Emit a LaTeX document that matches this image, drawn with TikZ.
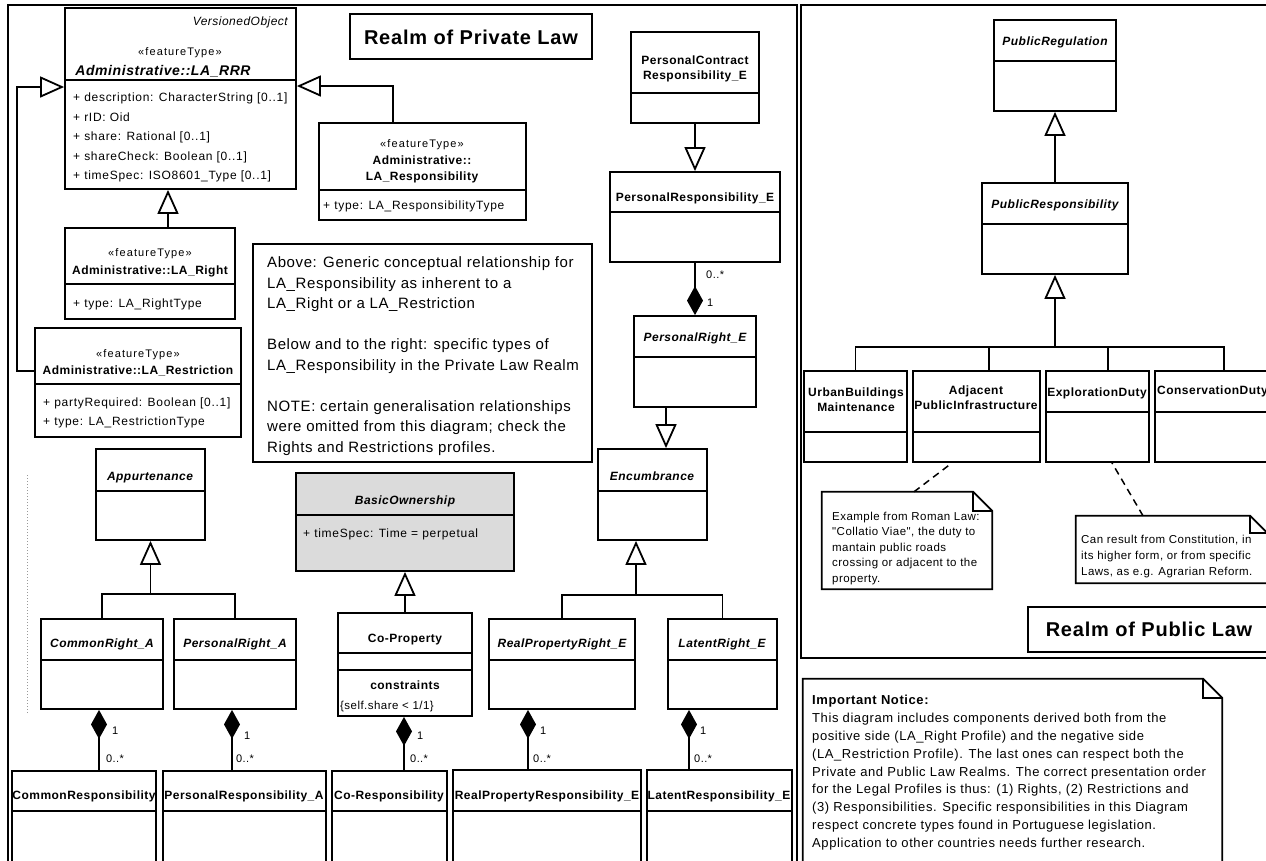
\documentclass[tikz,border=0pt]{standalone}
\usepackage{fontspec}
\setmainfont{Liberation Sans}[LetterSpace=4]
\newfontfamily\plainquotes{Liberation Sans}[LetterSpace=4]
\usetikzlibrary{arrows.meta,fit}

\begin{document}
\begin{tikzpicture}[
        x=1pt, y=-1pt,
        realm/.style={draw=black, line width=1.9pt, inner sep=0pt},
        classbox/.style={draw=black, line width=1.8pt, inner sep=0pt, fill=white},
        notebox/.style={inner sep=0pt},
        divider/.style={line width=1.8pt},
        link/.style={line width=1.8pt},
        gen/.style={link, -{Triangle[open, length=24pt, width=21pt]}},
        comp/.style={link, -{Diamond[length=29pt, width=16pt]}},
        noteline/.style={line width=1.5pt, dash pattern=on 7pt off 5pt},
        cname/.style={anchor=base, inner sep=0pt, font=\fontsize{12}{14}\selectfont\bfseries},
        aname/.style={anchor=base, inner sep=0pt, font=\fontsize{12}{14}\selectfont\bfseries\itshape},
        twoline/.style={anchor=center, inner sep=0pt, align=center, font=\fontsize{12}{15}\selectfont\bfseries},
        stereo/.style={anchor=base, inner sep=0pt, font=\fontsize{11}{13}\selectfont\addfontfeature{LetterSpace=10}},
        attr/.style={anchor=base west, inner sep=0pt, font=\fontsize{12}{14}\selectfont\addfontfeature{LetterSpace=6}},
        mult/.style={anchor=base west, inner sep=0pt, font=\fontsize{11}{13}\selectfont},
        notetext/.style={anchor=north west, inner sep=0pt, align=left},
        realmtitle/.style={anchor=base, inner sep=0pt, font=\fontsize{20}{24}\selectfont\bfseries}
    ]
    \path[use as bounding box] (0,0) rectangle (1266,860);
    \fill[white] (0,0) rectangle (1266,860);
    \clip (0,0) rectangle (1266,860);

    % Realm frames
    \node[realm, fit={(8,5) (797,880)}] (private) {};
    \node[realm, fit={(801,5) (1290,658)}] (public) {};

    % Private law: LA_RRR and its three kinds
    \node[classbox, fit={(65,8) (296,189)}] (rrr) {};
    \draw[divider] (rrr.west |- 0,80) -- (rrr.east |- 0,80);
    \node[anchor=base east, inner sep=0pt, font=\fontsize{12}{14}\selectfont\itshape] (rrrsuper) at (288,25) {VersionedObject};
    \node[stereo] (rrrst) at (180,55) {«featureType»};
    \node[aname, font=\fontsize{14}{16}\selectfont\bfseries\itshape] (rrrname) at (163,75) {Administrative::LA\_RRR};
    \node[attr] (rrra1) at (73,101.5) {+ description: CharacterString [0..1]};
    \node[attr] (rrra2) at (73,121) {+ rID: Oid};
    \node[attr] (rrra3) at (73,140.5) {+ share: Rational [0..1]};
    \node[attr] (rrra4) at (73,160) {+ shareCheck: Boolean [0..1]};
    \node[attr] (rrra5) at (73,179.5) {+ timeSpec: ISO8601\_Type [0..1]};

    \node[classbox, fit={(65,228) (235,319)}] (rgt) {};
    \draw[divider] (rgt.west |- 0,284) -- (rgt.east |- 0,284);
    \node[stereo] (rgtst) at (150,256) {«featureType»};
    \node[cname] (rgtname) at (150,274.3) {Administrative::LA\_Right};
    \node[attr] (rgta1) at (73,307.3) {+ type: LA\_RightType};

    \node[classbox, fit={(35,328) (241,437)}] (rst) {};
    \draw[divider] (rst.west |- 0,384) -- (rst.east |- 0,384);
    \node[stereo] (rstst) at (138,357) {«featureType»};
    \node[cname] (rstname) at (138,374.3) {Administrative::LA\_Restriction};
    \node[attr] (rsta1) at (43,406.3) {+ partyRequired: Boolean [0..1]};
    \node[attr] (rsta2) at (43,425.3) {+ type: LA\_RestrictionType};

    \node[classbox, fit={(319,123) (526,220)}] (rsp) {};
    \draw[divider] (rsp.west |- 0,190) -- (rsp.east |- 0,190);
    \node[stereo] (rspst) at (422,147) {«featureType»};
    \node[cname] (rspname1) at (422,164.3) {Administrative::};
    \node[cname] (rspname2) at (422,180.3) {LA\_Responsibility};
    \node[attr] (rspa1) at (323,209.3) {+ type: LA\_ResponsibilityType};

    % Title and scope note
    \node[classbox, fit={(350,14) (592,59)}] (privbox) {};
    \node[realmtitle] (privtitle) at (471,44.5) {Realm of Private Law};

    \node[classbox, fit={(253,244) (592,462)}] (scopenote) {};
    \node[notetext, font=\fontsize{15}{20.5}\selectfont] (scopetext) at (267,256.5) {Above: Generic conceptual relationship for\\LA\_Responsibility as inherent to a\\LA\_Right or a LA\_Restriction\\[20.5pt]Below and to the right: specific types of\\LA\_Responsibility in the Private Law Realm\\[20.5pt]NOTE: certain generalisation relationships\\were omitted from this diagram; check the\\Rights and Restrictions profiles.};

    % Encumbrance branch
    \node[classbox, fit={(631,32) (759,123)}] (pcr) {};
    \draw[divider] (pcr.west |- 0,93) -- (pcr.east |- 0,93);
    \node[twoline] (pcrname) at (695,69) {PersonalContract\\Responsibility\_E};

    \node[classbox, fit={(610,172) (780,262)}] (pre) {};
    \draw[divider] (pre.west |- 0,212) -- (pre.east |- 0,212);
    \node[cname] (prename) at (695,201.3) {PersonalResponsibility\_E};

    \node[classbox, fit={(634,316) (756,407)}] (prE) {};
    \draw[divider] (prE.west |- 0,357) -- (prE.east |- 0,357);
    \node[aname] (prEname) at (695,341.3) {PersonalRight\_E};

    \node[classbox, fit={(598,449) (707,540)}] (enc) {};
    \draw[divider] (enc.west |- 0,491) -- (enc.east |- 0,491);
    \node[aname] (encname) at (652,480.3) {Encumbrance};

    \node[classbox, fit={(489,619) (635,709)}] (rprE) {};
    \draw[divider] (rprE.west |- 0,660) -- (rprE.east |- 0,660);
    \node[aname] (rprEname) at (562,647.3) {RealPropertyRight\_E};

    \node[classbox, fit={(668,619) (777,709)}] (latE) {};
    \draw[divider] (latE.west |- 0,660) -- (latE.east |- 0,660);
    \node[aname] (latEname) at (722,647.3) {LatentRight\_E};

    \node[classbox, fit={(453,770) (641,880)}] (rpresp) {};
    \draw[divider] (rpresp.west |- 0,811) -- (rpresp.east |- 0,811);
    \node[cname] (rprespname) at (547,799.3) {RealPropertyResponsibility\_E};

    \node[classbox, fit={(647,770) (792,880)}] (latresp) {};
    \draw[divider] (latresp.west |- 0,811) -- (latresp.east |- 0,811);
    \node[cname] (latrespname) at (719,799.3) {LatentResponsibility\_E};

    % Appurtenance branch
    \node[classbox, fit={(96,449) (205,540)}] (apt) {};
    \draw[divider] (apt.west |- 0,491) -- (apt.east |- 0,491);
    \node[aname] (aptname) at (150,480.3) {Appurtenance};

    \node[classbox, fit={(41,619) (163,709)}] (crA) {};
    \draw[divider] (crA.west |- 0,660) -- (crA.east |- 0,660);
    \node[aname] (crAname) at (102,647.3) {CommonRight\_A};

    \node[classbox, fit={(174,619) (296,709)}] (prA) {};
    \draw[divider] (prA.west |- 0,660) -- (prA.east |- 0,660);
    \node[aname] (prAname) at (235,647.3) {PersonalRight\_A};

    \node[classbox, fit={(12,771) (156,880)}] (cresp) {};
    \draw[divider] (cresp.west |- 0,811) -- (cresp.east |- 0,811);
    \node[cname] (cresname) at (84,799.3) {CommonResponsibility};

    \node[classbox, fit={(163,771) (326,880)}] (presA) {};
    \draw[divider] (presA.west |- 0,811) -- (presA.east |- 0,811);
    \node[cname] (presAname) at (244,799.3) {PersonalResponsibility\_A};

    % BasicOwnership branch
    \node[classbox, fill=black!14, fit={(296,473) (514,571)}] (bo) {};
    \draw[divider] (bo.west |- 0,515) -- (bo.east |- 0,515);
    \node[aname] (boname) at (405,504.3) {BasicOwnership};
    \node[attr] (boa1) at (303,537.3) {+ timeSpec: Time = perpetual};

    \node[classbox, fit={(338,613) (472,716)}] (cop) {};
    \draw[divider] (cop.west |- 0,653) -- (cop.east |- 0,653);
    \draw[divider] (cop.west |- 0,670) -- (cop.east |- 0,670);
    \node[cname] (copname) at (405,642.3) {Co-Property};
    \node[cname] (copcons) at (405,689.3) {constraints};
    \node[anchor=base west, inner sep=0pt, font=\fontsize{11.5}{13}\selectfont] (coprule) at (340,709) {\{self.share < 1/1\}};

    \node[classbox, fit={(332,771) (447,880)}] (coresp) {};
    \draw[divider] (coresp.west |- 0,811) -- (coresp.east |- 0,811);
    \node[cname] (corespname) at (389,799.3) {Co-Responsibility};

    \draw[black!40, line width=1pt, dash pattern=on 1pt off 2pt] (27,475) -- (27,713);

    % Generalisations (private)
    \draw[gen] (rgt.north -| 168,0) -- (rrr.south -| 168,0);
    \draw[gen] (rst.west |- 0,371) -- (17,371) -- (17,87) -- (rrr.west |- 0,87);
    \draw[gen] (rsp.north -| 393,0) -- (393,86) -- (rrr.east |- 0,86);
    \draw[gen] (pcr.south) -- (pre.north);
    \draw[gen] (prE.south -| 666,0) -- (enc.north -| 666,0);
    \draw[link] (rprE.north) |- (636,595);
    \draw[gen] (latE.north) |- (636,595) -- (enc.south -| 636,0);
    \draw[link] (crA.north) |- (apt.south |- 0,594);
    \draw[gen] (prA.north) |- (apt.south |- 0,594) -- (apt.south);
    \draw[gen] (cop.north) -- (bo.south);

    % Compositions
    \draw[comp] (pre.south) -- (prE.north);
    \node[mult] (m1a) at (706,278) {0..*};
    \node[mult] (m1b) at (707,306) {1};
    \draw[comp] (cresp.north -| 99,0) -- (crA.south -| 99,0);
    \node[mult] (m2a) at (112,734) {1};
    \node[mult] (m2b) at (106,762) {0..*};
    \draw[comp] (presA.north -| 232,0) -- (prA.south -| 232,0);
    \node[mult] (m3a) at (244,739) {1};
    \node[mult] (m3b) at (236,762) {0..*};
    \draw[comp] (coresp.north -| 404,0) -- (cop.south -| 404,0);
    \node[mult] (m4a) at (417,739) {1};
    \node[mult] (m4b) at (410,762) {0..*};
    \draw[comp] (rpresp.north -| 528,0) -- (rprE.south -| 528,0);
    \node[mult] (m5a) at (540,734) {1};
    \node[mult] (m5b) at (533,762) {0..*};
    \draw[comp] (latresp.north -| 689,0) -- (latE.south -| 689,0);
    \node[mult] (m6a) at (700,734) {1};
    \node[mult] (m6b) at (694,762) {0..*};

    % Public law
    \node[classbox, fit={(994,20) (1116,111)}] (preg) {};
    \draw[divider] (preg.west |- 0,61) -- (preg.east |- 0,61);
    \node[aname] (pregname) at (1055,45.3) {PublicRegulation};

    \node[classbox, fit={(982,183) (1128,274)}] (presp) {};
    \draw[divider] (presp.west |- 0,224) -- (presp.east |- 0,224);
    \node[aname] (prespname) at (1055,208.3) {PublicResponsibility};

    \node[classbox, fit={(804,371) (907,462)}] (urb) {};
    \draw[divider] (urb.west |- 0,432) -- (urb.east |- 0,432);
    \node[twoline] (urbname) at (856,400) {UrbanBuildings\\Maintenance};

    \node[classbox, fit={(913,371) (1040,462)}] (adj) {};
    \draw[divider] (adj.west |- 0,432) -- (adj.east |- 0,432);
    \node[twoline] (adjname) at (976,398) {Adjacent\\PublicInfrastructure};

    \node[classbox, fit={(1046,371) (1149,462)}] (expl) {};
    \draw[divider] (expl.west |- 0,412) -- (expl.east |- 0,412);
    \node[cname] (explname) at (1097,396.3) {ExplorationDuty};

    \node[classbox, fit={(1155,371) (1293,462)}] (cons) {};
    \draw[divider] (cons.west |- 0,412) -- (cons.east |- 0,412);
    \node[cname, anchor=base west] (consname) at (1157,394.3) {ConservationDuty};

    \draw[gen] (presp.north) -- (preg.south);
    \draw[link] (urb.north) |- (presp.south |- 0,347);
    \draw[link] (989,0 |- adj.north) -- (989,347);
    \draw[link] (1108,0 |- expl.north) -- (1108,347);
    \draw[gen] (cons.north) |- (presp.south |- 0,347) -- (presp.south);

    % Notes (public)
    \node[notebox, fit={(822,492) (992,589)}] (romannote) {};
    \draw[link, fill=white] (romannote.north west) -- ([xshift=-19pt]romannote.north east) -- ([yshift=-19pt]romannote.north east) -- (romannote.south east) -- (romannote.south west) -- cycle;
    \draw[link] ([xshift=-19pt]romannote.north east) |- ([yshift=-19pt]romannote.north east);
    \node[notetext, font=\fontsize{11.5}{15.5}\selectfont\plainquotes] (romantext) at (832,511.8) {Example from Roman Law:\\"Collatio Viae", the duty to\\mantain public roads\\crossing or adjacent to the\\property.};
    \draw[noteline] (romannote.north -| 914,0) -- (adj.south -| 952,0);

    \node[notebox, fit={(1076,516) (1267,583)}] (constnote) {};
    \draw[link, fill=white] (constnote.north west) -- ([xshift=-17pt]constnote.north east) -- ([yshift=-17pt]constnote.north east) -- (constnote.south east) -- (constnote.south west) -- cycle;
    \draw[link] ([xshift=-17pt]constnote.north east) |- ([yshift=-17pt]constnote.north east);
    \node[notetext, font=\fontsize{11.5}{16}\selectfont] (consttext) at (1081,534.8) {Can result from Constitution, in\\its higher form, or from specific\\Laws, as e.g. Agrarian Reform.};
    \draw[noteline] (constnote.north -| 1143,0) -- (expl.south -| 1112,0);

    \node[classbox, fit={(1028,607) (1270,652)}] (pubbox) {};
    \node[realmtitle] (pubtitle) at (1149,636.5) {Realm of Public Law};

    % Important notice
    \node[notebox, fit={(803,679) (1222,880)}] (notice) {};
    \draw[link, fill=white] (notice.north west) -- ([xshift=-19pt]notice.north east) -- ([yshift=-19pt]notice.north east) -- (notice.south east) -- (notice.south west) -- cycle;
    \draw[link] ([xshift=-19pt]notice.north east) |- ([yshift=-19pt]notice.north east);
    \node[notetext, font=\fontsize{13}{17.8}\selectfont\addfontfeature{LetterSpace=4.5}] (noticetext) at (812,695.3) {\textbf{Important Notice:}\\This diagram includes components derived both from the\\positive side (LA\_Right Profile) and the negative side\\(LA\_Restriction Profile). The last ones can respect both the\\Private and Public Law Realms. The correct presentation order\\for the Legal Profiles is thus: (1) Rights, (2) Restrictions and\\(3) Responsibilities. Specific responsibilities in this Diagram\\respect concrete types found in Portuguese legislation.\\Application to other countries needs further research.};
\end{tikzpicture}
\end{document}
